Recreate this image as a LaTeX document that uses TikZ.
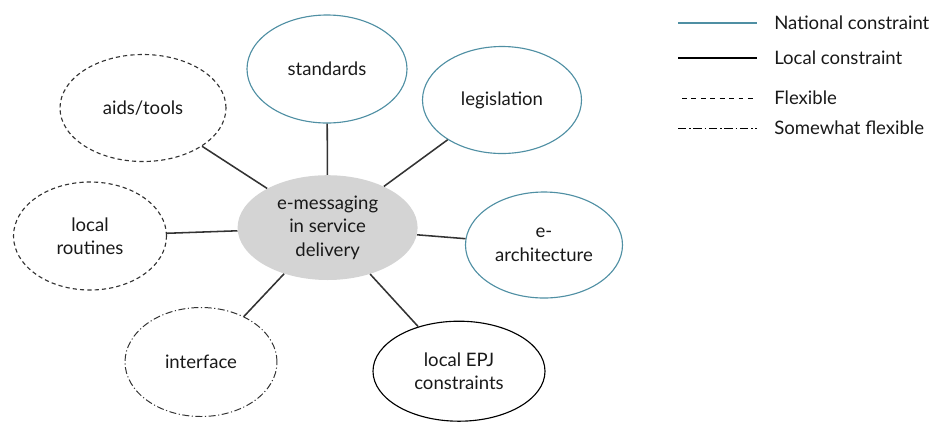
\documentclass[tikz,border=0pt]{standalone}
\usepackage{fontspec}
\setmainfont{Lato}
\usepackage{tikz}
\usetikzlibrary{shapes.geometric}

\definecolor{natblue}{HTML}{4F8FA3}
\definecolor{linkgray}{HTML}{333333}

\tikzset{
	hub/.style={ellipse,fill=black!17,draw=none,align=center,inner sep=0pt,minimum width=4.5cm,minimum height=2.62cm},
	natnode/.style={ellipse,draw=natblue,line width=0.8pt,align=center,inner sep=0pt},
	locnode/.style={ellipse,draw=black,line width=0.8pt,align=center,inner sep=0pt},
	flexnode/.style={ellipse,draw=black!80,line width=0.8pt,dash pattern=on 3pt off 2.2pt,align=center,inner sep=0pt},
	semiflexnode/.style={ellipse,draw=black!80,line width=0.7pt,dash pattern=on 5pt off 1.8pt on 0.8pt off 1.8pt,align=center,inner sep=0pt},
	link/.style={draw=linkgray,line width=1.1pt},
	keytext/.style={anchor=west,inner sep=0pt}
}

\begin{document}
\begin{tikzpicture}[font=\fontsize{13.2}{16.7}\selectfont,text=black!90]
	\useasboundingbox (0,0) rectangle (23.375,-10.525);

	\node[hub] (msg) at (8.19, -5.69) {e-messaging\\in service\\delivery};
	\node[natnode,minimum width=4.0cm,minimum height=2.7cm] (std) at (8.175, -1.725) {standards};
	\node[natnode,minimum width=3.975cm,minimum height=2.675cm] (leg) at (12.55, -2.5) {legislation};
	\node[natnode,minimum width=3.925cm,minimum height=2.65cm] (arch) at (13.6, -6.125) {e-\\architecture};
	\node[locnode,minimum width=4.3cm,minimum height=2.5cm] (epj) at (11.475, -9.28) {local EPJ\\constraints};
	\node[semiflexnode,minimum width=3.8cm,minimum height=2.725cm] (intf) at (5.025, -9.05) {interface};
	\node[flexnode,minimum width=3.825cm,minimum height=2.7cm] (rout) at (2.25, -5.9) {local\\routines};
	\node[flexnode,minimum width=4.15cm,minimum height=2.675cm] (aids) at (3.575, -2.7) {aids/tools};

	\path[link] (msg) edge (std);
	\path[link] (msg) edge (leg);
	\path[link] (msg) edge (arch);
	\path[link] (msg) edge (epj);
	\path[link] (msg) edge (intf);
	\path[link] (msg) edge (rout);
	\path[link] (msg) edge (aids);

	% key
	\coordinate (k1a) at (16.95, -0.575);  \coordinate (k1b) at (18.925, -0.575);
	\coordinate (k2a) at (16.95, -1.45);   \coordinate (k2b) at (18.925, -1.45);
	\coordinate (k3a) at (17.05, -2.45);   \coordinate (k3b) at (18.925, -2.45);
	\coordinate (k4a) at (16.95, -3.2);    \coordinate (k4b) at (18.925, -3.2);
	\node[keytext] (k1) at (19.35, -0.575) {National constraint};
	\node[keytext] (k2) at (19.35, -1.45) {Local constraint};
	\node[keytext] (k3) at (19.35, -2.45) {Flexible};
	\node[keytext] (k4) at (19.35, -3.2) {Somewhat flexible};
	\draw[natblue,line width=0.8pt] (k1a) -- (k1b);
	\draw[black,line width=0.8pt] (k2a) -- (k2b);
	\draw[black,line width=0.7pt,dash pattern=on 3.5pt off 3.2pt] (k3a) -- (k3b);
	\draw[black,line width=0.7pt,dash pattern=on 6pt off 2pt on 1pt off 2pt] (k4a) -- (k4b);

\end{tikzpicture}
\end{document}
